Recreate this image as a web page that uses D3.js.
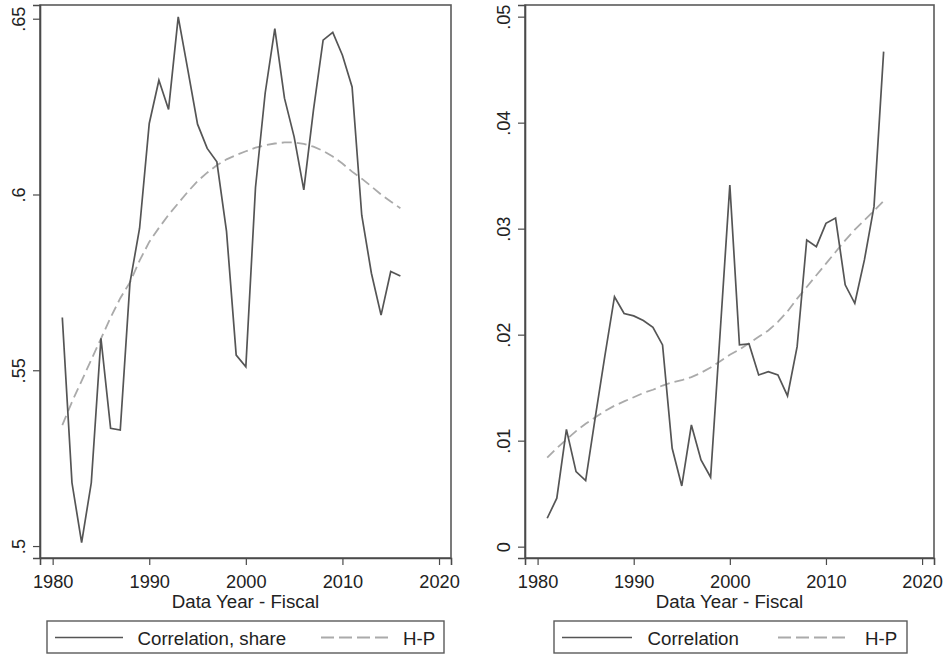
<!DOCTYPE html>
<html>
<head>
<meta charset="utf-8">
<script src="https://cdn.jsdelivr.net/npm/d3@7"></script>
<style>
    body { margin: 0; background: #fff; }
    svg text { font-family: "Liberation Sans", Arial, sans-serif; fill: #222; }
</style>
</head>
<body>
<svg id="chart" width="945" height="654"></svg>
<script>
// fiscal years 1981-2016
var years = d3.range(1981, 2017);

// left panel: correlation, share
var shareCorr = [0.5650, 0.5180, 0.5010, 0.5180, 0.5591, 0.5335, 0.5330, 0.5748, 0.5904, 0.6202,
    0.6325, 0.6242, 0.6505, 0.6354, 0.6200, 0.6131, 0.6093, 0.5895, 0.5543, 0.5510,
    0.6020, 0.6288, 0.6472, 0.6274, 0.6164, 0.6013, 0.6240, 0.6439, 0.6461, 0.6396,
    0.6306, 0.5941, 0.5776, 0.5657, 0.5781, 0.5768];
var shareHP = [0.5344, 0.5410, 0.5470, 0.5530, 0.5590, 0.5650, 0.5705, 0.5750, 0.5812, 0.5865,
    0.5905, 0.5942, 0.5975, 0.6008, 0.6038, 0.6062, 0.6083, 0.6100, 0.6112, 0.6123,
    0.6133, 0.6140, 0.6145, 0.6148, 0.6148, 0.6144, 0.6136, 0.6124, 0.6108, 0.6088,
    0.6065, 0.6045, 0.6023, 0.6000, 0.5980, 0.5961];

// right panel: correlation
var corr = [0.00268, 0.00457, 0.01107, 0.00708, 0.00623, 0.01220, 0.01800, 0.02358, 0.02200, 0.02177,
    0.02133, 0.02070, 0.01903, 0.00928, 0.00573, 0.01148, 0.00818, 0.00655, 0.02030, 0.03412,
    0.01903, 0.01912, 0.01620, 0.01650, 0.01620, 0.01422, 0.01887, 0.02893, 0.02830, 0.03050,
    0.03100, 0.02470, 0.02296, 0.02705, 0.03210, 0.04670];
var corrHP = [0.0084, 0.0093, 0.0101, 0.0109, 0.0116, 0.0122, 0.0128, 0.0133, 0.0137, 0.0141,
    0.0145, 0.0148, 0.0152, 0.0155, 0.0157, 0.0160, 0.0164, 0.0169, 0.0175, 0.0181,
    0.0186, 0.0192, 0.0198, 0.0204, 0.0212, 0.0222, 0.0234, 0.0245, 0.0256, 0.0267,
    0.0278, 0.0289, 0.0299, 0.0308, 0.0317, 0.0326];

var xTicks = [1980, 1990, 2000, 2010, 2020];
var shareTicks = [0.5, 0.55, 0.6, 0.65];
var corrTicks = [0, 0.01, 0.02, 0.03, 0.04, 0.05];

var xTitle = "Data Year - Fiscal";
var legendHP = "H-P";

var svg = d3.select("#chart");

/**
 * Stata style labels: leading zero dropped (.65, .5, 0)
 */
function stataFormat(v) {
    var s = d3.format("~g")(+v.toFixed(4));
    return s.replace(/^0\./, ".");
}

function drawPanel(cfg) {
    var g = svg.append("g");

    var x = d3.scaleLinear()
        .domain([1978.69, 2021.24])
        .range([cfg.left, cfg.right]);

    var y = d3.scaleLinear()
        .domain(cfg.yDomain)
        .range([cfg.bottom, cfg.top]);

    var rows = years.map((yr, i) => ({year: yr, v: cfg.values[i], hp: cfg.trend[i]}));

    // plot region outline
    g.append("rect")
        .attr("x", cfg.left)
        .attr("y", cfg.top)
        .attr("width", cfg.right - cfg.left)
        .attr("height", cfg.bottom - cfg.top)
        .attr("fill", "none")
        .attr("stroke", "#5a5a5a")
        .attr("stroke-width", 1.6);

    /**
     * AXES
     */
    var xAxis = g.append("g")
        .attr("class", "xAxis")
        .attr("transform", "translate(0," + cfg.bottom + ")")
        .call(d3.axisBottom(x).tickValues(xTicks).tickFormat(d3.format("d")).tickSize(7));

    var yAxis = g.append("g")
        .attr("class", "yAxis")
        .attr("transform", "translate(" + cfg.left + ",0)")
        .call(d3.axisLeft(y).tickValues(cfg.yTicks).tickFormat(stataFormat).tickSize(7).tickPadding(0));

    [xAxis, yAxis].forEach(ax => {
        ax.select(".domain").attr("stroke", "#4a4a4a").attr("stroke-width", 1.6);
        ax.selectAll(".tick line").attr("stroke", "#4a4a4a").attr("stroke-width", 1.2);
        ax.selectAll(".tick text")
            .attr("font-size", 18.2)
            .attr("font-family", "Liberation Sans, Arial, sans-serif")
            .attr("fill", "#222");
    });
    // baseline of year labels
    xAxis.selectAll(".tick text").attr("dy", null).attr("y", 29.5);

    // rotated y labels, baseline towards the axis
    yAxis.selectAll(".tick text")
        .attr("x", null)
        .attr("dy", null)
        .attr("text-anchor", "middle")
        .attr("transform", "translate(" + (cfg.labelX - cfg.left) + ",0) rotate(-90)");

    g.append("text")
        .attr("x", (cfg.left + cfg.right) / 2)
        .attr("y", 607.5)
        .attr("text-anchor", "middle")
        .attr("font-size", 18.7)
        .text(xTitle);

    /**
     * LINES
     */
    g.append("path")
        .datum(rows)
        .attr("fill", "none")
        .attr("stroke", "#aaaaaa")
        .attr("stroke-width", 1.8)
        .attr("stroke-dasharray", "10,5")
        .attr("d", d3.line().x(d => x(d.year)).y(d => y(d.hp)));

    g.append("path")
        .datum(rows)
        .attr("fill", "none")
        .attr("stroke", "#555555")
        .attr("stroke-width", 1.7)
        .attr("stroke-linejoin", "miter")
        .attr("d", d3.line().x(d => x(d.year)).y(d => y(d.v)));

    /**
     * LEGEND
     */
    var lg = cfg.legend;
    g.append("rect")
        .attr("x", lg.x0)
        .attr("y", 621)
        .attr("width", lg.x1 - lg.x0)
        .attr("height", 32)
        .attr("fill", "#fff")
        .attr("stroke", "#5a5a5a")
        .attr("stroke-width", 1.4);

    g.append("line")
        .attr("x1", lg.solid[0]).attr("x2", lg.solid[1])
        .attr("y1", 637.5).attr("y2", 637.5)
        .attr("stroke", "#555555")
        .attr("stroke-width", 1.6);

    g.append("text")
        .attr("x", lg.solidText)
        .attr("y", 644.5)
        .attr("font-size", 18.7)
        .text(cfg.label);

    g.append("line")
        .attr("x1", lg.dash[0]).attr("x2", lg.dash[1])
        .attr("y1", 637.5).attr("y2", 637.5)
        .attr("stroke", "#aaaaaa")
        .attr("stroke-width", 1.8)
        .attr("stroke-dasharray", "13,5");

    g.append("text")
        .attr("x", lg.dashText)
        .attr("y", 644.5)
        .attr("font-size", 18.7)
        .text(legendHP);
}

drawPanel({
    left: 40, right: 451, top: 5, bottom: 558, labelX: 25,
    yDomain: [0.4966, 0.6539], yTicks: shareTicks,
    values: shareCorr, trend: shareHP,
    label: "Correlation, share",
    legend: {x0: 47, x1: 444, solid: [55, 123], solidText: 137.5, dash: [321, 389], dashText: 403}
});

drawPanel({
    left: 525, right: 934, top: 5, bottom: 558, labelX: 510,
    yDomain: [-0.00107, 0.0511], yTicks: corrTicks,
    values: corr, trend: corrHP,
    label: "Correlation",
    legend: {x0: 554, x1: 907, solid: [562, 632], solidText: 647.5, dash: [778, 848], dashText: 865}
});
</script>
</body>
</html>
